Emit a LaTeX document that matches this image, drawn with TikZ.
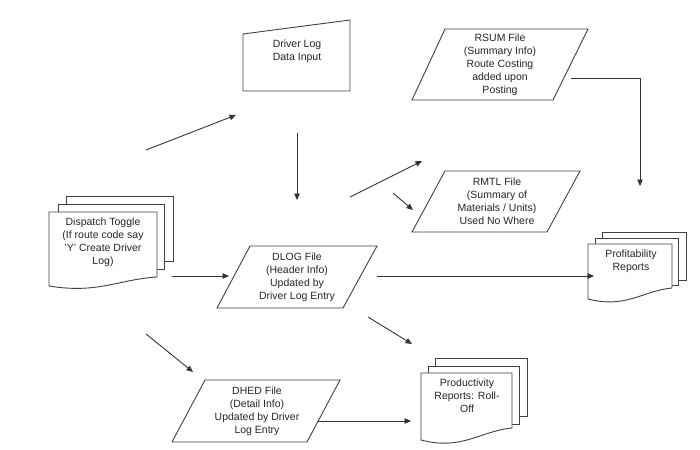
\documentclass[tikz,border=0pt]{standalone}
\usepackage{fontspec}
\setmainfont{Liberation Sans}
\usetikzlibrary{arrows.meta}
\tikzset{
  shp/.style={draw=black!75,line width=0.9pt,fill=white,line join=miter},
  lbl/.style={align=center,font=\fontsize{10.5}{13}\selectfont,text=black!85,inner sep=0pt},
  conn/.style={draw=black!80,line width=0.9pt,-{Triangle[length=6.5pt,width=5.5pt]}},
  plainline/.style={draw=black!80,line width=0.9pt}
}
% document page with wavy bottom: left, top, right, bottom-left, bottom-right
\newcommand{\mydoc}[5]{%
  \path[shp] (#1,#2) -- (#3,#2) -- (#3,#5)
    .. controls ({#3-0.35*(#3-#1)},{#5+0.25*(#4-#5)}) and ({#1+0.45*(#3-#1)},{#4+0.9*(#4-#5)}) .. (#1,#4) -- cycle;}
\begin{document}
\begin{tikzpicture}[x=1pt,y=-1pt]
\useasboundingbox (0,0) rectangle (700,449);

% ---------- Driver Log Data Input (manual input) ----------
\path[shp] (243,34) -- (350,20) -- (350,91) -- (243,91) -- cycle;
\node[lbl] (dli) at (297,51) {Driver Log\\Data Input};

% ---------- RSUM ----------
\path[shp] (445,29) -- (588,29) -- (553,100) -- (412,100) -- cycle;
\node[lbl] (rsum) at (500,65) {RSUM File\\(Summary Info)\\Route Costing\\added upon\\Posting};

% ---------- RMTL ----------
\path[shp] (445,171) -- (580,171) -- (547,232) -- (412,232) -- cycle;
\node[lbl] (rmtl) at (497,201) {RMTL File\\(Summary of\\Materials / Units)\\Used No Where};

% ---------- DLOG ----------
\path[shp] (250,246) -- (377,246) -- (343,308) -- (217,308) -- cycle;
\node[lbl] (dlog) at (297,277) {DLOG File\\(Header Info)\\Updated by\\Driver Log Entry};

% ---------- DHED ----------
\path[shp] (205,380) -- (340,380) -- (307,442) -- (172,442) -- cycle;
\node[lbl] (dhed) at (257,411) {DHED File\\(Detail Info)\\Updated by Driver\\Log Entry};

% ---------- Dispatch Toggle (multi-document) ----------
\path[shp] (66,196) rectangle (173,261);
\path[shp] (58,204) rectangle (164,269);
\mydoc{49}{212}{157}{286}{277}
\node[lbl] (disp) at (103,242) {Dispatch Toggle\\(If route code say\\'Y' Create Driver\\Log)};

% ---------- Profitability Reports ----------
\path[shp] (602,232) rectangle (686,280);
\path[shp] (595,238) rectangle (678,285);
\mydoc{588}{244}{672}{299}{288}
\node[lbl] (prof) at (631,261) {Profitability\\Reports};

% ---------- Productivity Reports ----------
\path[shp] (435,358) rectangle (527,416);
\path[shp] (428,366) rectangle (519,424);
\mydoc{421}{373}{512}{440}{428}
\node[lbl] (prod) at (467,396) {Productivity\\Reports: Roll-\\Off};

% ---------- connector end points ----------
\coordinate (a1s) at (146,150);  \coordinate (a1e) at (236,115);
\coordinate (a2s) at (297,133);  \coordinate (a2e) at (297,200);
\coordinate (a3s) at (350,197);  \coordinate (a3e) at (422,161);
\coordinate (a4s) at (393,193);  \coordinate (a4e) at (413,210);
\coordinate (a5s) at (172,276);  \coordinate (a5e) at (229,276);
\coordinate (a6s) at (377,276);  \coordinate (a6e) at (594,276);
\coordinate (a7s) at (368,317);  \coordinate (a7e) at (412,344);
\coordinate (a8s) at (146,334);  \coordinate (a8e) at (193,372);
\coordinate (a9s) at (318,421);  \coordinate (a9e) at (411,421);
\coordinate (a10s) at (571,78);  \coordinate (a10m) at (640,78); \coordinate (a10e) at (640,186);

\draw[conn] (a1s) -- (a1e);
\draw[conn] (a2s) -- (a2e);
\draw[conn] (a3s) -- (a3e);
\draw[conn] (a4s) -- (a4e);
\draw[conn] (a5s) -- (a5e);
\draw[conn] (a6s) -- (a6e);
\draw[conn] (a7s) -- (a7e);
\draw[conn] (a8s) -- (a8e);
\draw[conn] (a9s) -- (a9e);
\draw[conn] (a10s) -- (a10m) -- (a10e);
\end{tikzpicture}
\end{document}
